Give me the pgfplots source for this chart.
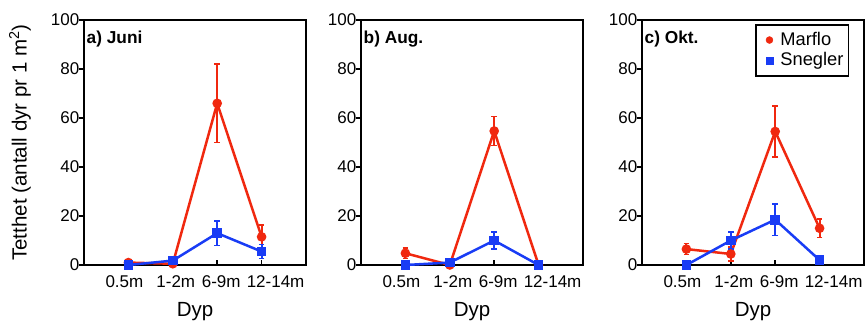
\documentclass[border=0pt]{standalone}
\usepackage{pgfplots}
\pgfplotsset{compat=1.18}
\usepackage{fontspec}
\setmainfont{Liberation Sans}
\definecolor{mred}{RGB}{240,40,15}
\definecolor{mblue}{RGB}{25,60,245}
\pgfplotsset{
  panel/.style={
    scale only axis, width=222pt, height=245pt,
    xmin=-1, xmax=4, ymin=0, ymax=100,
    xtick={0,1,2,3},
    xticklabels={0.5m\hspace*{8pt}, \hspace*{6pt}1-2m, \hspace*{8pt}6-9m, \hspace*{28pt}12-14m},
    ytick={0,20,...,100},
    axis line style={line width=1.8pt},
    tick style={line width=1.8pt, black},
    xtick pos=bottom, ytick pos=left,
    xtick align=inside, ytick align=outside,
    major tick length=5.5pt,
    tick label style={font=\fontsize{17}{17}\selectfont},
    xticklabel style={anchor=center, yshift=-16.5pt},
    yticklabel style={anchor=east, inner sep=0pt, xshift=1pt},
    every axis x label/.style={at={(axis description cs:0.5,0)}, yshift=-47pt, anchor=center, font=\fontsize{20.5}{20.5}\selectfont},
    every axis y label/.style={at={(axis description cs:-0.288,0.5)}, rotate=90, anchor=center, font=\fontsize{20.5}{20.5}\selectfont},
    xlabel={Dyp},
    /pgf/number format/assume math mode=true,
    clip=false,
    error bars/y dir=both, error bars/y explicit,
    error bars/error bar style={line width=2pt},
    error bars/error mark options={rotate=90, mark size=2.8pt, line width=1.5pt},
  },
  red/.style={color=mred, line width=2.5pt, mark=*, mark size=3.5pt, mark options={solid}},
  blue/.style={color=mblue, line width=2.5pt, mark=square*, mark size=3.6pt, mark options={solid}},
}
\newcommand{\ptitle}[1]{\node[anchor=base west, inner sep=0pt, font=\bfseries\fontsize{17.3}{17.3}\selectfont] at ([xshift=2.5pt,yshift=-23pt]rel axis cs:0,1) {#1};}
\begin{document}
\begin{tikzpicture}
\path[use as bounding box] (0,0) rectangle (865pt,-325pt);
% a) Juni
\begin{axis}[panel, at={(84pt,-265pt)}, anchor=south west,
  ylabel={Tetthet (antall dyr pr 1 m\textsuperscript{2})}]
\addplot[red] coordinates {(0,1) +- (0,1.2) (1,0.5) +- (0,0.3) (2,66) +- (0,16) (3,11.5) +- (0,4.8)};
\addplot[blue] coordinates {(0,0) +- (0,0) (1,1.8) +- (0,0.8) (2,13) +- (0,5) (3,5.5) +- (0,2.8)};
\ptitle{a) Juni}
\end{axis}
% b) Aug.
\begin{axis}[panel, at={(361pt,-265pt)}, anchor=south west]
\addplot[red] coordinates {(0,4.8) +- (0,2.2) (1,0) +- (0,0) (2,54.7) +- (0,6) (3,0) +- (0,0)};
\addplot[blue] coordinates {(0,0) +- (0,0) (1,1) +- (0,0.8) (2,10) +- (0,3.4) (3,0) +- (0,0)};
\ptitle{b) Aug.}
\end{axis}
% c) Okt.
\begin{axis}[panel, at={(642pt,-265pt)}, anchor=south west,
  legend style={at={(axis description cs:0.934,0.984)}, anchor=north east,
    draw=black, line width=1.8pt, inner xsep=3pt, inner ysep=5pt, row sep=0pt,
    font=\fontsize{18.3}{18.3}\selectfont, legend cell align=left,
    nodes={inner xsep=2pt, inner ysep=1.7pt, text height=14pt, text depth=3pt}}]
\addplot[red, forget plot] coordinates {(0,6.5) +- (0,2.3) (1,4.5) +- (0,2.8) (2,54.5) +- (0,10.5) (3,15) +- (0,3.8)};
\addplot[blue, forget plot] coordinates {(0,0) +- (0,0) (1,10) +- (0,3.5) (2,18.5) +- (0,6.5) (3,2) +- (0,1)};
\addlegendimage{legend image code/.code={\path[draw=none] (0pt,0pt) -- (19.6pt,0pt); \path[fill=mred, draw=mred, line width=0.4pt] plot[mark=*, mark size=3.5pt, only marks] coordinates {(10.7pt,0pt)};}}
\addlegendentry{Marflo}
\addlegendimage{legend image code/.code={\path[draw=none] (0pt,0pt) -- (19.6pt,0pt); \path[fill=mblue, draw=mblue, line width=0.4pt] plot[mark=square*, mark size=3.6pt, only marks] coordinates {(10.7pt,0pt)};}}
\addlegendentry{Snegler}
\ptitle{c) Okt.}
\end{axis}
\end{tikzpicture}
\end{document}
